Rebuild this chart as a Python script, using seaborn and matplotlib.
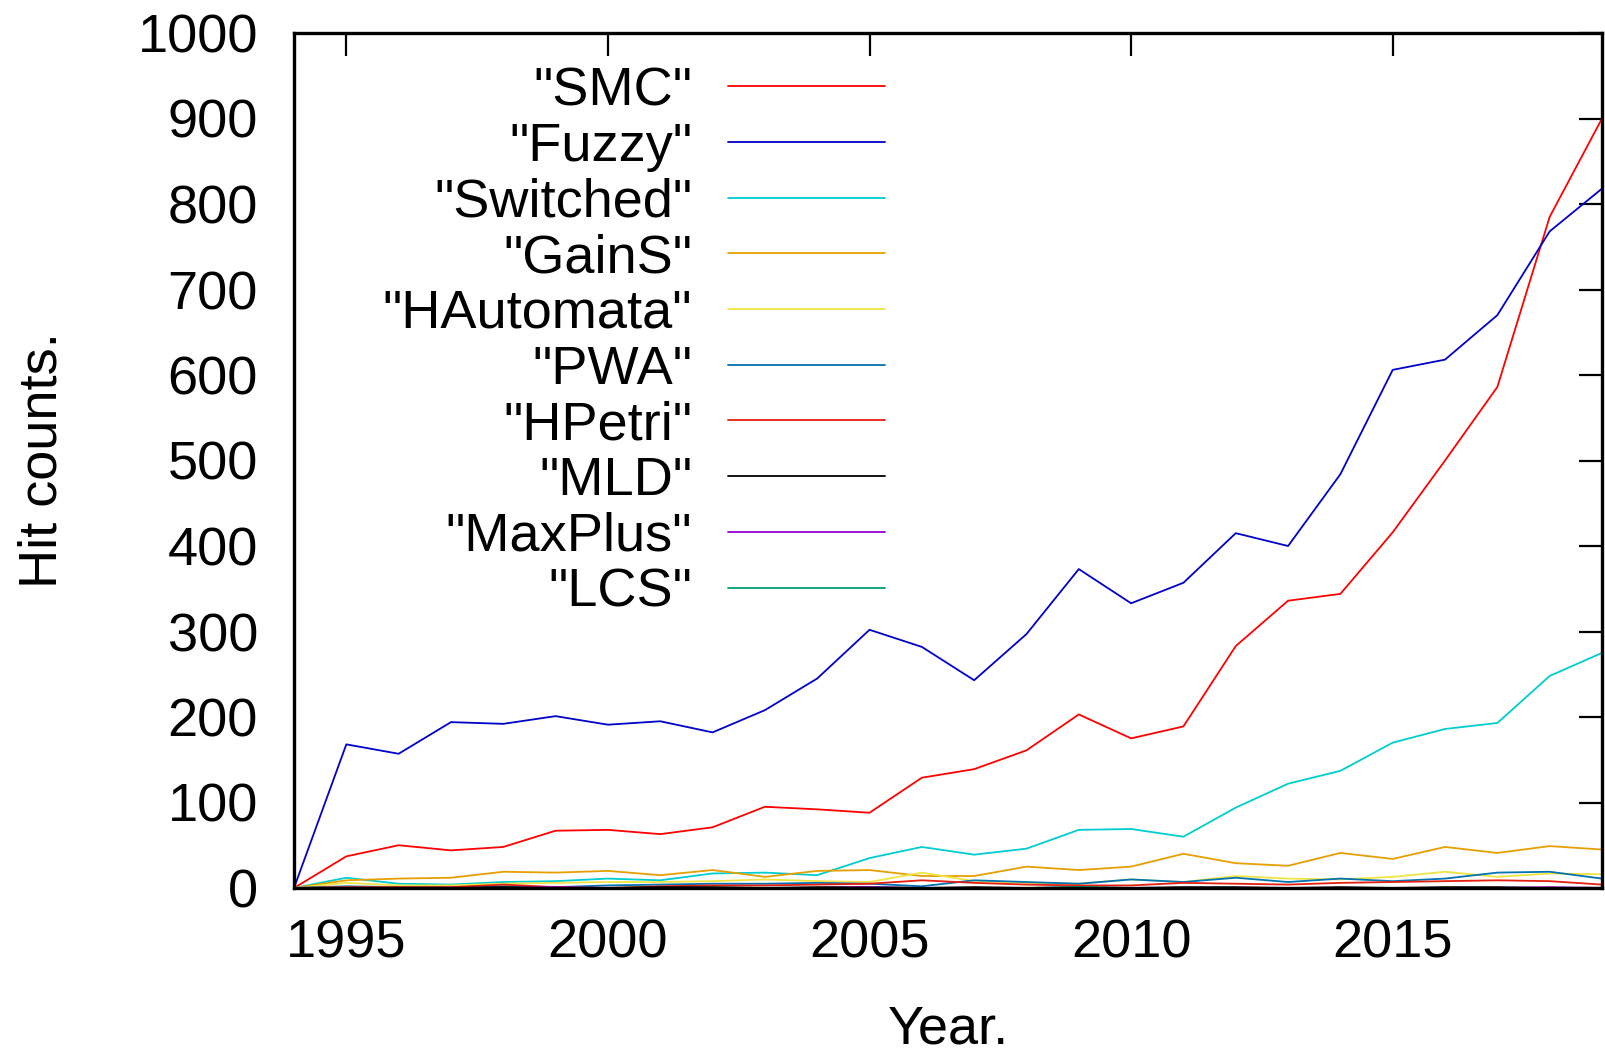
import numpy as np
import pandas as pd
import matplotlib
matplotlib.use("Agg")
import matplotlib.pyplot as plt
import seaborn as sns

years = list(range(1994, 2020))
SMC = [0, 37, 50, 44, 48, 67, 68, 63, 71, 95, 92, 88, 129, 139, 161, 203, 175, 189, 283, 336, 344, 416, 500, 586, 785, 900]
Fuzzy = [0, 168, 157, 194, 192, 201, 191, 195, 182, 208, 245, 302, 282, 243, 297, 373, 333, 357, 415, 400, 484, 606, 618, 670, 768, 818]
Switched = [0, 12, 5, 4, 7, 8, 11, 9, 17, 18, 15, 35, 48, 39, 46, 68, 69, 60, 94, 122, 137, 170, 186, 193, 248, 275]
GainS = [0, 9, 11, 12, 19, 18, 20, 15, 21, 13, 20, 21, 14, 14, 25, 21, 25, 40, 29, 26, 41, 34, 48, 41, 49, 45]
HAutomata = [0, 6, 3, 3, 5, 6, 7, 7, 8, 10, 8, 7, 18, 8, 6, 5, 10, 7, 14, 11, 10, 13, 19, 13, 17, 16]
PWA = [0, 2, 1, 1, 2, 1, 3, 4, 5, 5, 6, 5, 2, 9, 7, 5, 10, 7, 12, 7, 11, 8, 11, 18, 19, 11]
HPetri = [0, 1, 1, 1, 4, 1, 0, 2, 3, 3, 4, 5, 9, 6, 4, 3, 3, 6, 5, 4, 6, 7, 8, 9, 8, 4]
MLD = [0, 0, 0, 0, 1, 0, 0, 1, 1, 0, 1, 1, 0, 1, 0, 1, 0, 1, 1, 0, 1, 0, 1, 1, 0, 0]
MaxPlus = [0, 0, 0, 0, 0, 1, 0, 0, 0, 0, 0, 1, 0, 0, 0, 0, 0, 0, 0, 0, 0, 0, 0, 0, 1, 0]
LCS = [0, 0, 0, 0, 0, 0, 0, 0, 0, 0, 0, 0, 0, 0, 0, 1, 0, 0, 0, 0, 0, 0, 0, 0, 0, 0]

series_names = ['"SMC"', '"Fuzzy"', '"Switched"', '"GainS"', '"HAutomata"',
                '"PWA"', '"HPetri"', '"MLD"', '"MaxPlus"', '"LCS"']
series_values = [SMC, Fuzzy, Switched, GainS, HAutomata, PWA, HPetri, MLD, MaxPlus, LCS]
colors = ["#ff0000", "#0000c8", "#00cdd0", "#e69f00", "#f0e442",
          "#0072b2", "#e51e10", "#000000", "#9400d3", "#009e73"]

xticks = [1995, 2000, 2005, 2010, 2015]
yticks = list(range(0, 1001, 100))

rows = []
for name, vals in zip(series_names, series_values):
    for y, v in zip(years, vals):
        rows.append({"Year": y, "Hits": v, "Series": name})
df = pd.DataFrame(rows)

sns.set_theme(style="white")
plt.rcParams["font.family"] = ["Liberation Sans", "DejaVu Sans"]
FS = 39

fig = plt.figure(figsize=(16.05, 10.53), dpi=100)
ax = fig.add_axes([294 / 1605, 1 - 888 / 1053, (1602 - 294) / 1605, (888 - 33) / 1053])

sns.lineplot(data=df, x="Year", y="Hits", hue="Series", hue_order=series_names,
             palette=dict(zip(series_names, colors)), ax=ax, legend=False,
             linewidth=1.3, sort=True)

ax.set_xlim(1994, 2019)
ax.set_ylim(0, 1000)
ax.set_xticks(xticks)
ax.set_yticks(yticks)
ax.tick_params(axis="both", direction="in", length=16.5, width=1.6, labelsize=FS,
               top=True, right=True, color="black", labelcolor="black")
ax.tick_params(axis="y", pad=26)
ax.tick_params(axis="x", pad=22)
for s in ax.spines.values():
    s.set_visible(True)
    s.set_color("black")
    s.set_linewidth(2.4)

ax.set_xlabel("Year.", fontsize=FS, color="black")
ax.set_ylabel("Hit counts.", fontsize=FS, color="black")
ax.xaxis.set_label_coords(0.5, (888 - 1029) / 855)
ax.yaxis.set_label_coords((43 - 294) / 1308, 0.5)
ax.xaxis.label.set_va("center")
ax.yaxis.label.set_va("center")

handles = ax.get_lines()[:len(series_names)]
leg = ax.legend(handles, series_names, loc="upper right",
                bbox_to_anchor=((885 - 294) / 1308, 1 - (66 - 33) / 855),
                frameon=False, markerfirst=False, fontsize=FS,
                handlelength=2.9, handletextpad=0.66, labelspacing=0.106,
                borderpad=0, borderaxespad=0)
for t in leg.get_texts():
    t.set_color("black")

fig.savefig("out.png", dpi=100, facecolor="white")
